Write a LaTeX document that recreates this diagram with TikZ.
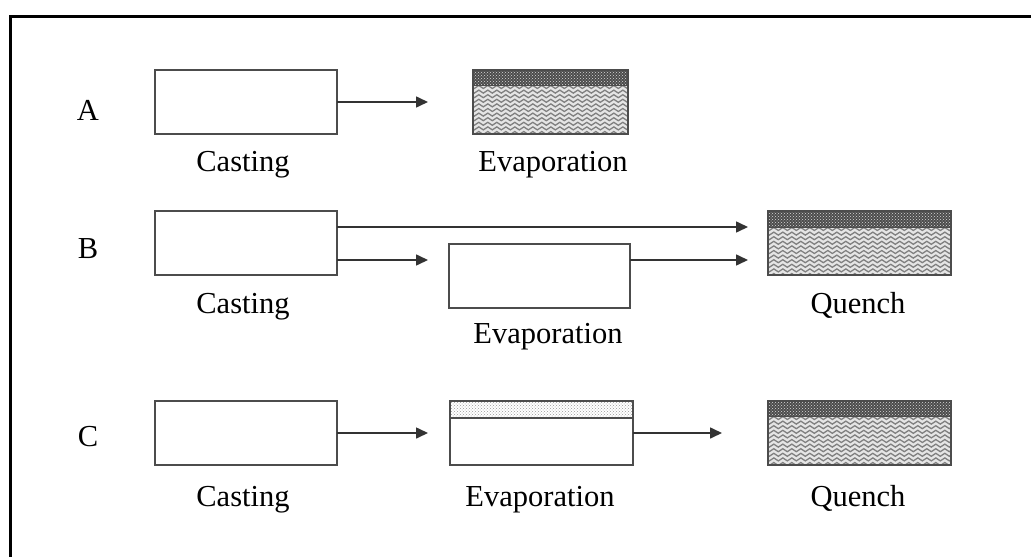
\documentclass[tikz,border=0pt]{standalone}
\usepackage{fontspec}
\setmainfont{Liberation Serif}
\usetikzlibrary{arrows.meta,calc,patterns,decorations.pathmorphing}
\tikzset{
  box/.style={draw=black!70, line width=1.6pt, fill=white, inner sep=0pt, outer sep=0pt},
  arr/.style={draw=black!80, line width=1.6pt, -{Triangle[length=12pt,width=11pt]}},
  lbl/.style={font=\fontsize{30.5}{36}\selectfont, inner sep=0pt, anchor=base},
  frame/.style={line width=3pt, black},
  wave/.style={black!50, line width=1.3pt, decorate, decoration={snake, amplitude=1.5pt, segment length=9pt}},
}
\newcommand\wavebody[4]{%
  \begin{scope}
    \clip (#1,#2) rectangle (#3,#4);
    \fill[black!10] (#1,#2) rectangle (#3,#4);
    \foreach \i in {0,...,11}{
      \pgfmathsetmacro\yy{#2+2+4.6*\i}
      \draw[wave] (#1-6,\yy) -- (#3+6,\yy);
    }
  \end{scope}}
\newcommand\darkband[4]{%
  \fill[black!70] (#1,#2) rectangle (#3,#4);
  \fill[pattern=crosshatch dots, pattern color=black!15] (#1,#2) rectangle (#3,#4);}
\begin{document}
\begin{tikzpicture}[x=1pt,y=-1pt]
\useasboundingbox (0,0) rectangle (1031,557);
\draw[frame] (1031,16) -- (10,16) -- (10,557);
% Row labels
\node[lbl] (la) at (88,120) {A};
\node[lbl] (lb) at (88,258) {B};
\node[lbl] (lc) at (88,446) {C};
% Row A
\node[box, minimum width=182pt, minimum height=64pt] (castA) at (246,102) {};
\wavebody{473}{85}{628}{134}
\darkband{473}{70}{628}{85}
\node[draw=black!70, line width=1.6pt, minimum width=155pt, minimum height=64pt, inner sep=0pt, outer sep=0pt] (evapA) at (550.5,102) {};
\draw[black!70, line width=1pt] (473,85) -- (628,85);
\draw[arr, shorten >=45pt] (castA.east) -- (evapA.west);
\node[lbl] (tcA) at (243,171) {Casting};
\node[lbl] (teA) at (553,171) {Evaporation};
% Row B
\node[box, minimum width=182pt, minimum height=64pt] (castB) at (246,243) {};
\node[box, minimum width=181pt, minimum height=64pt] (evapB) at (539.5,276) {};
\wavebody{768}{227}{951}{275}
\darkband{768}{211}{951}{227}
\node[draw=black!70, line width=1.6pt, minimum width=183pt, minimum height=64pt, inner sep=0pt, outer sep=0pt] (quB) at (859.5,243) {};
\draw[black!70, line width=1pt] (768,227) -- (951,227);
\coordinate (b1) at (337,227);
\coordinate (b2) at (337,260);
\draw[arr, shorten >=20pt] (b1) -- (quB.west |- b1);
\draw[arr, shorten >=21pt] (b2) -- (evapB.west |- b2);
\draw[arr, shorten >=20pt] (evapB.east |- b2) -- (quB.west |- b2);
\node[lbl] (tcB) at (243,313) {Casting};
\node[lbl] (teB) at (548,343) {Evaporation};
\node[lbl] (tqB) at (858,313) {Quench};
% Row C
\node[box, minimum width=182pt, minimum height=64pt] (castC) at (246,433) {};
\node[box, minimum width=183pt, minimum height=64pt] (evapC) at (541.5,433) {};
\fill[pattern=crosshatch dots, pattern color=black!40] (450,401) rectangle (633,418);
\draw[black!70, line width=1.6pt] (450,418) -- (633,418);
\draw[black!70, line width=1.6pt] (evapC.north west) rectangle (evapC.south east);
\wavebody{768}{416}{951}{465}
\darkband{768}{401}{951}{416}
\node[draw=black!70, line width=1.6pt, minimum width=183pt, minimum height=64pt, inner sep=0pt, outer sep=0pt] (quC) at (859.5,433) {};
\draw[black!70, line width=1pt] (768,416) -- (951,416);
\draw[arr, shorten >=22pt] (castC.east) -- (evapC.west);
\draw[arr, shorten >=46pt] (evapC.east) -- (quC.west);
\node[lbl] (tcC) at (243,506) {Casting};
\node[lbl] (teC) at (540,506) {Evaporation};
\node[lbl] (tqC) at (858,506) {Quench};
\end{tikzpicture}
\end{document}
